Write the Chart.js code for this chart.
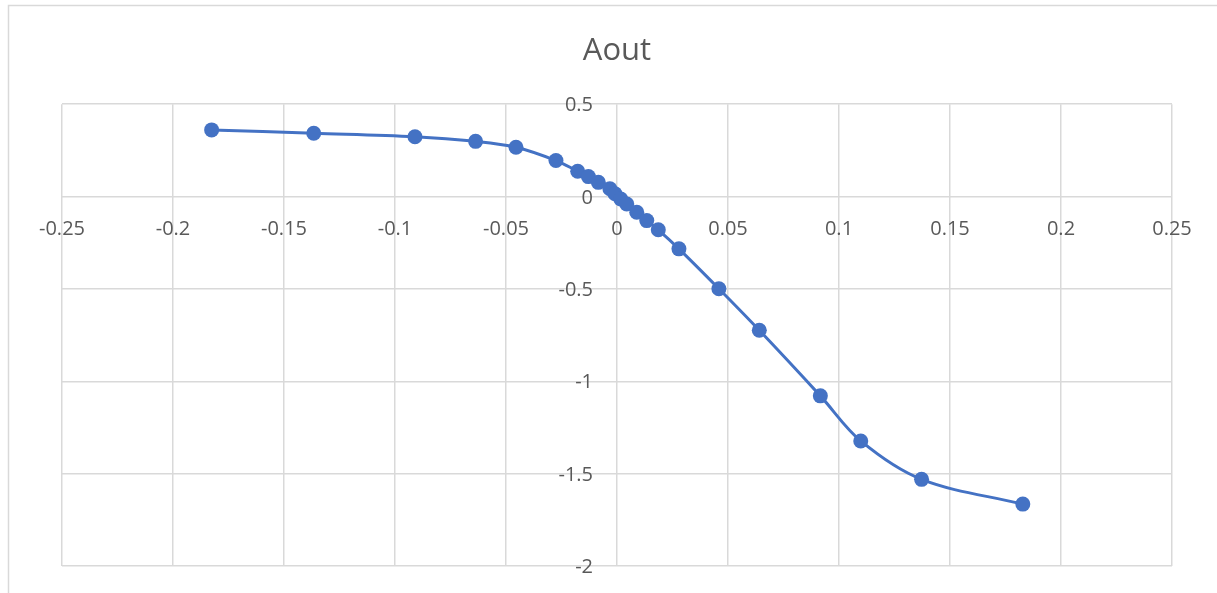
<!DOCTYPE html>
<html>
<head>
<meta charset="utf-8">
<script src="https://cdn.jsdelivr.net/npm/chart.js@4/dist/chart.umd.min.js"></script>
<style>
  html, body { margin: 0; padding: 0; background: #fff; }
  #wrap { width: 1217px; height: 593px; position: relative; }
</style>
</head>
<body>
<div id="wrap"><canvas id="chart" width="1217" height="593"></canvas></div>
<script>
const chartTitle = 'Aout';
const xValues = [-0.1826, -0.1366, -0.0910, -0.0637, -0.0455, -0.0275, -0.0177, -0.0129, -0.0084, -0.0032, -0.0009, 0.0017, 0.0044, 0.0089, 0.0134, 0.0186, 0.0279, 0.0459, 0.0641, 0.0916, 0.1098, 0.1372, 0.1828];
const yValues = [0.361, 0.343, 0.324, 0.299, 0.267, 0.195, 0.137, 0.108, 0.077, 0.042, 0.015, -0.013, -0.040, -0.085, -0.130, -0.180, -0.283, -0.499, -0.724, -1.079, -1.323, -1.531, -1.665];
const xTicks = [-0.25, -0.2, -0.15, -0.1, -0.05, 0, 0.05, 0.1, 0.15, 0.2, 0.25];
const xTickLabels = ['-0.25', '-0.2', '-0.15', '-0.1', '-0.05', '0', '0.05', '0.1', '0.15', '0.2', '0.25'];
const yTicks = [0.5, 0, -0.5, -1, -1.5, -2];
const yTickLabels = ['0.5', '0', '-0.5', '-1', '-1.5', '-2'];

const points = xValues.map((x, i) => ({ x: x, y: yValues[i] }));

// cadre du graphique (coupé par l'image)
const framePlugin = {
    id: 'frame',
    beforeDraw: (chart) => {
        const ctx = chart.ctx;
        ctx.save();
        ctx.strokeStyle = '#d9d9d9';
        ctx.lineWidth = 1.5;
        ctx.beginPath();
        ctx.moveTo(8.5, 700);
        ctx.lineTo(8.5, 5.5);
        ctx.lineTo(1300, 5.5);
        ctx.stroke();
        ctx.restore();
    }
};

// étiquettes des axes, posées le long des axes qui se croisent en 0
const axisLabelsPlugin = {
    id: 'axisLabels',
    beforeDatasetsDraw: (chart) => {
        const ctx = chart.ctx;
        const xs = chart.scales.x;
        const ys = chart.scales.y;
        const x0 = xs.getPixelForValue(0);
        const y0 = ys.getPixelForValue(0);
        ctx.save();
        ctx.font = '20px "Open Sans", sans-serif';
        ctx.fillStyle = '#595959';
        ctx.textBaseline = 'alphabetic';
        ctx.textAlign = 'center';
        xTicks.forEach((v, i) => {
            ctx.fillText(xTickLabels[i], xs.getPixelForValue(v), y0 + 38);
        });
        ctx.textAlign = 'right';
        yTicks.forEach((v, i) => {
            ctx.fillText(yTickLabels[i], x0 - 24, ys.getPixelForValue(v) + 7);
        });
        ctx.restore();
    }
};

new Chart(document.getElementById('chart'), {
    type: 'scatter',
    data: {
        datasets: [{
            label: chartTitle,
            data: points,
            showLine: true,
            borderColor: '#4472C4',
            backgroundColor: '#4472C4',
            borderWidth: 3,
            pointRadius: 7.5,
            pointHoverRadius: 7.5,
            pointBorderWidth: 0,
            tension: 0.35
        }]
    },
    options: {
        responsive: false,
        animation: false,
        layout: {
            padding: { left: 62, right: 45, top: 0, bottom: 27 }
        },
        scales: {
            x: {
                type: 'linear',
                min: -0.25,
                max: 0.25,
                ticks: { display: false, stepSize: 0.05 },
                grid: { color: '#d9d9d9', lineWidth: 1.5, drawTicks: false },
                border: { display: false }
            },
            y: {
                type: 'linear',
                min: -2,
                max: 0.5,
                ticks: { display: false, stepSize: 0.5 },
                grid: { color: '#d9d9d9', lineWidth: 1.5, drawTicks: false },
                border: { display: false }
            }
        },
        plugins: {
            legend: { display: false },
            tooltip: { enabled: false },
            title: {
                display: true,
                text: chartTitle,
                color: '#595959',
                font: { family: '"Open Sans", sans-serif', size: 31, weight: 'normal' },
                padding: { top: 33, bottom: 34 }
            }
        }
    },
    plugins: [framePlugin, axisLabelsPlugin]
});
</script>
</body>
</html>
